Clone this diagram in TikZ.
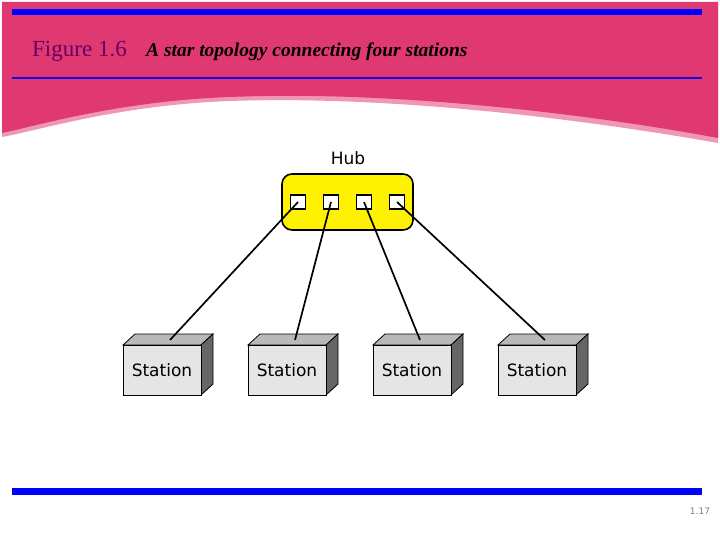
\documentclass[tikz,border=0pt]{standalone}
\usepackage{fontspec}
\setmainfont{Liberation Serif}
\newfontfamily\dv{DejaVu Sans}
\definecolor{band}{RGB}{224,56,112}
\definecolor{bandedge}{RGB}{240,150,185}
\begin{document}
\begin{tikzpicture}[x=1pt,y=-1pt,
 port/.style={draw=black,fill=white,line width=1.5pt,minimum width=15pt,minimum height=14pt,inner sep=0pt},
 stn/.style={draw=black,fill=gray!20,line width=0.8pt,minimum width=78pt,minimum height=50pt,inner sep=0pt,font=\dv\fontsize{17}{17}\selectfont},
 wire/.style={line width=1.7pt}]
\useasboundingbox (0,0) rectangle (720,540);
\fill[white] (0,0) rectangle (720,540);
\fill[bandedge] (2,4) -- (718,4) -- (718,143) .. controls (600,122) and (400,95) .. (230,101) .. controls (120,105) and (40,130) .. (2,137) -- cycle;
\fill[band] (2,2) -- (718,2) -- (718,138) .. controls (600,116) and (400,90) .. (230,97) .. controls (120,101) and (40,125) .. (2,133) -- cycle;
\fill[blue] (12,9) rectangle (702,15);
\fill[blue!80!violet] (12,77) rectangle (702,79.5);
\node[anchor=base west,inner sep=0pt,text=violet!80!black,font=\fontsize{23}{23}\selectfont] (ft) at (32,57) {Figure 1.6};
\node[anchor=base west,inner sep=0pt,font=\bfseries\itshape\fontsize{19.5}{19.5}\selectfont] (ct) at (146,57) {A star topology connecting four stations};
\node[draw=black,fill=yellow,line width=1.6pt,rounded corners=10pt,minimum width=131pt,minimum height=56pt] (hub) at (347.5,202) {};
\node[font=\dv\fontsize{17}{17}\selectfont] (hl) at (348,158) {Hub};
\foreach \i/\x in {1/298,2/331,3/364,4/397}{\node[port] (p\i) at (\x,202) {};}
\foreach \i/\x in {1/162,2/287,3/412,4/537}{
 \fill[gray!55,draw=black,line width=0.8pt] (\x-39,345) -- (\x-27,334) -- (\x+51,334) -- (\x+39,345) -- cycle;
 \fill[gray!80!black,draw=black,line width=0.8pt] (\x+39,345) -- (\x+51,334) -- (\x+51,384) -- (\x+39,395) -- cycle;
 \node[stn] (s\i) at (\x,370) {Station};
 \coordinate (t\i) at (\x+8,340);
}
\draw[wire] (p1.center) -- (t1);
\draw[wire] (p2.center) -- (t2);
\draw[wire] (p3.center) -- (t3);
\draw[wire] (p4.center) -- (t4);
\fill[blue] (12,488) rectangle (702,495);
\node[text=gray,font=\dv\fontsize{9}{9}\selectfont] (pg) at (700,511) {1.17};
\end{tikzpicture}
\end{document}
